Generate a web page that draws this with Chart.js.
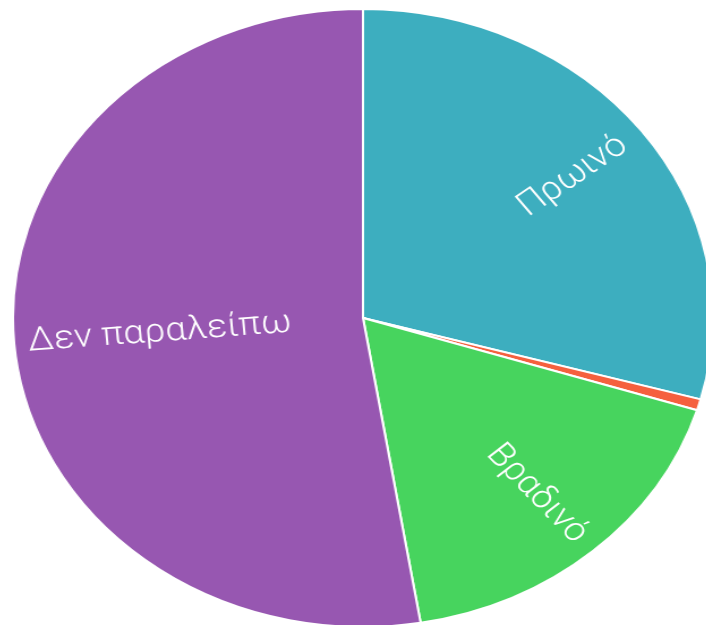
<!DOCTYPE html>
<html>
<head>
<meta charset="utf-8">
<script src="https://cdn.jsdelivr.net/npm/chart.js@4.4.1/dist/chart.umd.min.js"></script>
<style>
  html, body { margin: 0; padding: 0; background: #fff; overflow: hidden; }
  body { width: 706px; height: 625px; position: relative; }
  #wrap {
    position: absolute; left: 53px; top: 8px; width: 620px; height: 620px;
    transform: scaleX(1.1327); transform-origin: 310px 310px;
  }
</style>
</head>
<body>
<div id="wrap"><canvas id="pie" width="620" height="620"></canvas></div>
<script>
// Απαντήσεις: ποιο γεύμα παραλείπεις
const categorias = ['Πρωινό', 'Μεσημεριανό', 'Βραδινό', 'Δεν παραλείπω'];
const valores = [50, 1, 30, 90];
const cores = ['#3DAEBF', '#F5603E', '#47D45E', '#9757B1'];

// Ετικέτες περιστραμμένες κατά μήκος της διχοτόμου κάθε τομέα
const etiquetasRadiais = {
  id: 'etiquetasRadiais',
  afterDatasetsDraw(chart) {
    const ctx = chart.ctx;
    const meta = chart.getDatasetMeta(0);
    const total = valores.reduce((a, b) => a + b, 0);
    ctx.save();
    ctx.font = '300 33px Roboto, sans-serif';
    ctx.fillStyle = '#ffffff';
    ctx.textAlign = 'center';
    ctx.textBaseline = 'middle';
    meta.data.forEach((arc, i) => {
      if (valores[i] / total < 0.05) return;
      const { x, y, startAngle, endAngle, outerRadius } = arc.getProps(['x', 'y', 'startAngle', 'endAngle', 'outerRadius'], true);
      const meio = (startAngle + endAngle) / 2;
      const texto = categorias[i];
      const w = ctx.measureText(texto).width;
      const r = Math.min(outerRadius * 0.755, outerRadius * 0.96 - w / 2);
      ctx.save();
      ctx.translate(x + Math.cos(meio) * r, y + Math.sin(meio) * r);
      ctx.rotate(Math.cos(meio) < 0 ? meio + Math.PI : meio);
      ctx.fillText(texto, 0, 0);
      ctx.restore();
    });
    ctx.restore();
  }
};

new Chart(document.getElementById('pie'), {
  type: 'pie',
  data: {
    labels: categorias,
    datasets: [{ data: valores, backgroundColor: cores, borderColor: '#ffffff', borderWidth: 2 }]
  },
  options: {
    responsive: false,
    animation: false,
    plugins: { legend: { display: false }, tooltip: { enabled: false } },
    layout: { padding: 0 }
  },
  plugins: [etiquetasRadiais]
});
</script>
</body>
</html>
